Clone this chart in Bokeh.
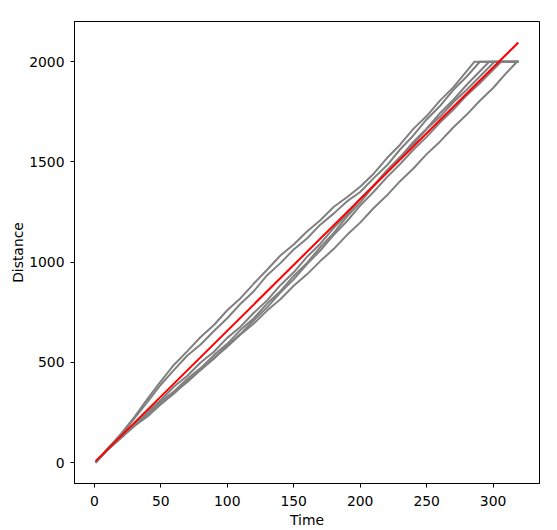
from bokeh.plotting import figure
from bokeh.models import Range1d, FixedTicker
from bokeh.embed import file_html
from bokeh.resources import INLINE

# ---- data ----
run_a_time = [1, 10, 20, 30, 40, 50, 60, 70, 80, 90, 100, 110, 120, 130, 140, 150, 160, 170, 180, 190,
              200, 210, 220, 230, 240, 250, 260, 270, 280, 286, 319]
run_a_dist = [0, 69, 143, 225, 318, 405, 488, 556, 626, 686, 760, 820, 893, 962, 1033, 1088, 1153, 1209, 1275, 1324,
              1376, 1440, 1518, 1586, 1665, 1729, 1806, 1872, 1952, 2000, 2000]

run_b_time = [1, 10, 20, 30, 40, 50, 60, 70, 80, 90, 100, 110, 120, 130, 140, 150, 160, 170, 180, 190,
              200, 210, 220, 230, 240, 250, 260, 270, 280, 290, 319]
run_b_dist = [0, 68, 135, 219, 302, 388, 462, 534, 589, 656, 720, 792, 855, 935, 995, 1063, 1118, 1187, 1242, 1303,
              1350, 1418, 1482, 1562, 1632, 1712, 1779, 1859, 1925, 2000, 2000]

run_c_time = [1, 10, 20, 30, 40, 50, 60, 70, 80, 90, 100, 110, 120, 130, 140, 150, 160, 170, 180, 190,
              200, 210, 220, 230, 240, 250, 260, 270, 280, 297, 319]
run_c_dist = [0, 66, 131, 189, 255, 312, 379, 433, 499, 553, 622, 678, 747, 809, 885, 949, 1026, 1092, 1170, 1237,
              1315, 1381, 1458, 1523, 1600, 1666, 1743, 1809, 1884, 2000, 2000]

run_d_time = [1, 10, 20, 30, 40, 50, 60, 70, 80, 90, 100, 110, 120, 130, 140, 150, 160, 170, 180, 190,
              200, 210, 220, 230, 240, 250, 260, 270, 280, 301, 319]
run_d_dist = [0, 65, 125, 189, 243, 303, 356, 418, 471, 536, 592, 662, 720, 793, 855, 931, 996, 1075, 1145, 1227,
              1297, 1379, 1447, 1524, 1589, 1664, 1725, 1798, 1859, 2000, 2000]

run_e_time = [1, 10, 20, 30, 40, 50, 60, 70, 80, 90, 100, 110, 120, 130, 140, 150, 160, 170, 180, 190,
              200, 210, 220, 230, 240, 250, 260, 270, 280, 290, 306, 319]
run_e_dist = [0, 64, 127, 181, 241, 291, 350, 402, 463, 518, 584, 642, 710, 774, 848, 914, 990, 1058, 1135, 1204,
              1282, 1350, 1423, 1489, 1561, 1625, 1696, 1760, 1832, 1893, 2000, 2000]

run_f_time = [1, 10, 20, 30, 40, 50, 60, 70, 80, 90, 100, 110, 120, 130, 140, 150, 160, 170, 180, 190,
              200, 210, 220, 230, 240, 250, 260, 270, 280, 290, 300, 310, 318, 319]
run_f_dist = [0, 63, 121, 182, 230, 291, 344, 407, 462, 523, 577, 639, 694, 758, 815, 882, 939, 1005, 1065, 1135,
              1197, 1269, 1332, 1404, 1467, 1539, 1601, 1672, 1735, 1805, 1869, 1944, 2000, 2000]

fit_time = [1, 319]
fit_dist = [7, 2096]

x_ticks = [0, 50, 100, 150, 200, 250, 300]
y_ticks = [0, 500, 1000, 1500, 2000]

runs = [(run_a_time, run_a_dist), (run_b_time, run_b_dist), (run_c_time, run_c_dist),
        (run_d_time, run_d_dist), (run_e_time, run_e_dist), (run_f_time, run_f_dist)]

all_t = [t for r in runs for t in r[0]] + fit_time
all_d = [d for r in runs for d in r[1]] + fit_dist
tmin, tmax = min(all_t), max(all_t)
dmin, dmax = min(all_d), max(all_d)
mt = (tmax - tmin) * 0.05
md = (dmax - dmin) * 0.05

FONT = "DejaVu Sans"

p = figure(width=557, height=530, output_backend="svg", toolbar_location=None,
           x_range=Range1d(tmin - mt, tmax + mt), y_range=Range1d(dmin - md, dmax + md),
           min_border_left=74, min_border_right=18, min_border_top=21, min_border_bottom=46)

p.background_fill_color = "white"
p.border_fill_color = "white"
p.outline_line_color = "black"
p.outline_line_width = 1
p.xgrid.visible = False
p.ygrid.visible = False

for t, d in runs:
    p.line(t, d, line_color="gray", line_width=2)
p.line(fit_time, fit_dist, line_color="red", line_width=2)

for ax in (p.xaxis[0], p.yaxis[0]):
    ax.axis_line_color = "black"
    ax.major_tick_line_color = "black"
    ax.major_tick_out = 4
    ax.major_tick_in = 0
    ax.minor_tick_line_color = None
    ax.major_label_text_font = FONT
    ax.major_label_text_font_size = "13.9px"
    ax.major_label_text_color = "black"
    ax.axis_label_text_font = FONT
    ax.axis_label_text_font_size = "13.9px"
    ax.axis_label_text_font_style = "normal"
    ax.axis_label_text_color = "black"

p.xaxis.ticker = FixedTicker(ticks=x_ticks)
p.yaxis.ticker = FixedTicker(ticks=y_ticks)
p.xaxis.axis_label = "Time"
p.yaxis.axis_label = "Distance"
p.xaxis.major_label_standoff = 8
p.xaxis.axis_label_standoff = 3
p.yaxis.major_label_standoff = 6
p.yaxis.axis_label_standoff = 0

open("out.html", "w").write(file_html(p, INLINE))
